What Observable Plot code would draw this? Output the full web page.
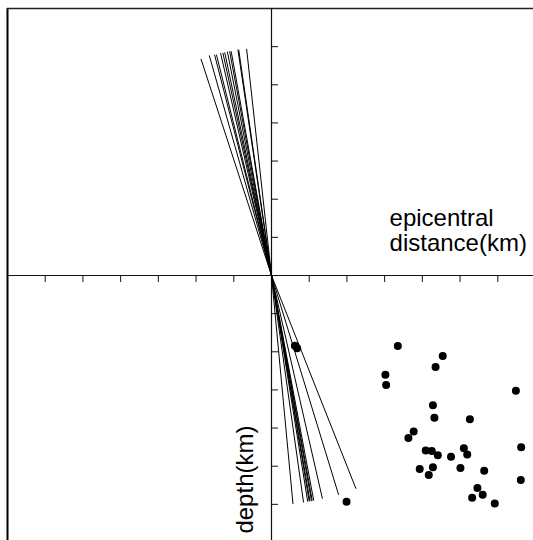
<!DOCTYPE html>
<html>
<head>
<meta charset="utf-8">
<script src="https://cdn.jsdelivr.net/npm/d3@7"></script>
<script src="https://cdn.jsdelivr.net/npm/@observablehq/plot@0.6"></script>
<style>
  html, body { margin: 0; padding: 0; background: #fff; }
  #chart { width: 533px; height: 540px; overflow: hidden; }
</style>
</head>
<body>
<div id="chart"></div>
<script>
// Upper fan of ray paths (end points, km units)
const upperEndX = [-1.87, -1.65, -1.51, -1.46, -1.35, -1.29, -1.24, -1.17, -1.11, -1.07, -0.89, -0.87, -0.66];
const upperEndY = [5.68, 5.77, 5.79, 5.79, 5.83, 5.84, 5.85, 5.87, 5.88, 5.88, 5.92, 5.92, 5.94];
// Lower fan of ray paths
const lowerEndX = [0.57, 0.85, 0.96, 1.00, 1.02, 1.06, 1.08, 1.12, 1.35, 1.78, 2.24];
const lowerEndY = [-5.99, -5.95, -5.93, -5.92, -5.92, -5.91, -5.90, -5.90, -5.85, -5.75, -5.59];
// Hypocentres
const quakeX = [0.62, 0.68, 1.99, 3.35, 4.54, 4.35, 3.02, 3.04, 6.48, 4.28, 4.32, 5.26, 3.77, 3.63, 4.09, 4.25, 4.41, 4.76, 5.10, 5.19, 6.62, 3.93, 4.28, 4.17, 5.01, 5.64, 6.61, 5.46, 5.60, 5.32, 5.92];
const quakeY = [-1.84, -1.91, -5.93, -1.85, -2.11, -2.40, -2.60, -2.87, -3.02, -3.40, -3.73, -3.77, -4.09, -4.26, -4.59, -4.60, -4.71, -4.75, -4.53, -4.69, -4.50, -5.07, -5.03, -5.23, -5.05, -5.12, -5.36, -5.57, -5.75, -5.83, -5.98];
// Tick positions
const xTicks = [-6, -5, -4, -3, -2, -1, 1, 2, 3, 4, 5, 6];
const yTicks = [-6, -5, -4, -3, -2, -1, 1, 2, 3, 4, 5, 6];
const xLabel = "epicentral\ndistance(km)";
const yLabel = "depth(km)";

const rays = [
  ...upperEndX.map((x, i) => ({x, y: upperEndY[i]})),
  ...lowerEndX.map((x, i) => ({x, y: lowerEndY[i]}))
];
const quakes = quakeX.map((x, i) => ({x, y: quakeY[i]}));

const font = "'Liberation Sans', Arial, sans-serif";

const chart = Plot.plot({
  width: 533,
  height: 540,
  marginLeft: 7,
  marginTop: 8,
  marginRight: 0,
  marginBottom: 0,
  style: {background: "#fff", fontFamily: font},
  x: {domain: [-7, 7], range: [7, 535], axis: null},
  y: {domain: [-7, 7], range: [542, 8], axis: null},
  marks: [
    // frame edges (left and top)
    Plot.ruleX([-7], {stroke: "#000", strokeWidth: 2}),
    Plot.ruleY([7], {stroke: "#222", strokeWidth: 1.5}),
    // axes through origin
    Plot.ruleX([0], {stroke: "#111", strokeWidth: 1.2}),
    Plot.ruleY([0], {stroke: "#111", strokeWidth: 1.2}),
    // ticks
    Plot.ruleX(xTicks, {x: d => d, y1: 0, y2: 0, insetTop: 0, insetBottom: -7, stroke: "#111", strokeWidth: 1}),
    Plot.ruleY(yTicks, {y: d => d, x1: 0, x2: 0, insetLeft: 0, insetRight: -7, stroke: "#111", strokeWidth: 1}),
    // ray paths
    Plot.link(rays, {x1: () => 0, y1: () => 0, x2: "x", y2: "y", stroke: "#000", strokeWidth: 1}),
    // hypocentres
    Plot.dot(quakes, {x: "x", y: "y", r: 4, fill: "#000", stroke: null}),
    // labels
    Plot.text([xLabel], {x: 3.13, y: 0.63, text: d => d, textAnchor: "start", lineAnchor: "bottom", lineHeight: 1.05, fontSize: 24, fill: "#000", fontFamily: font}),
    Plot.text([yLabel], {x: -0.5, y: -5.35, text: d => d, rotate: -90, textAnchor: "middle", lineAnchor: "bottom", fontSize: 24, fill: "#000", fontFamily: font})
  ]
});
document.getElementById("chart").appendChild(chart);
</script>
</body>
</html>
